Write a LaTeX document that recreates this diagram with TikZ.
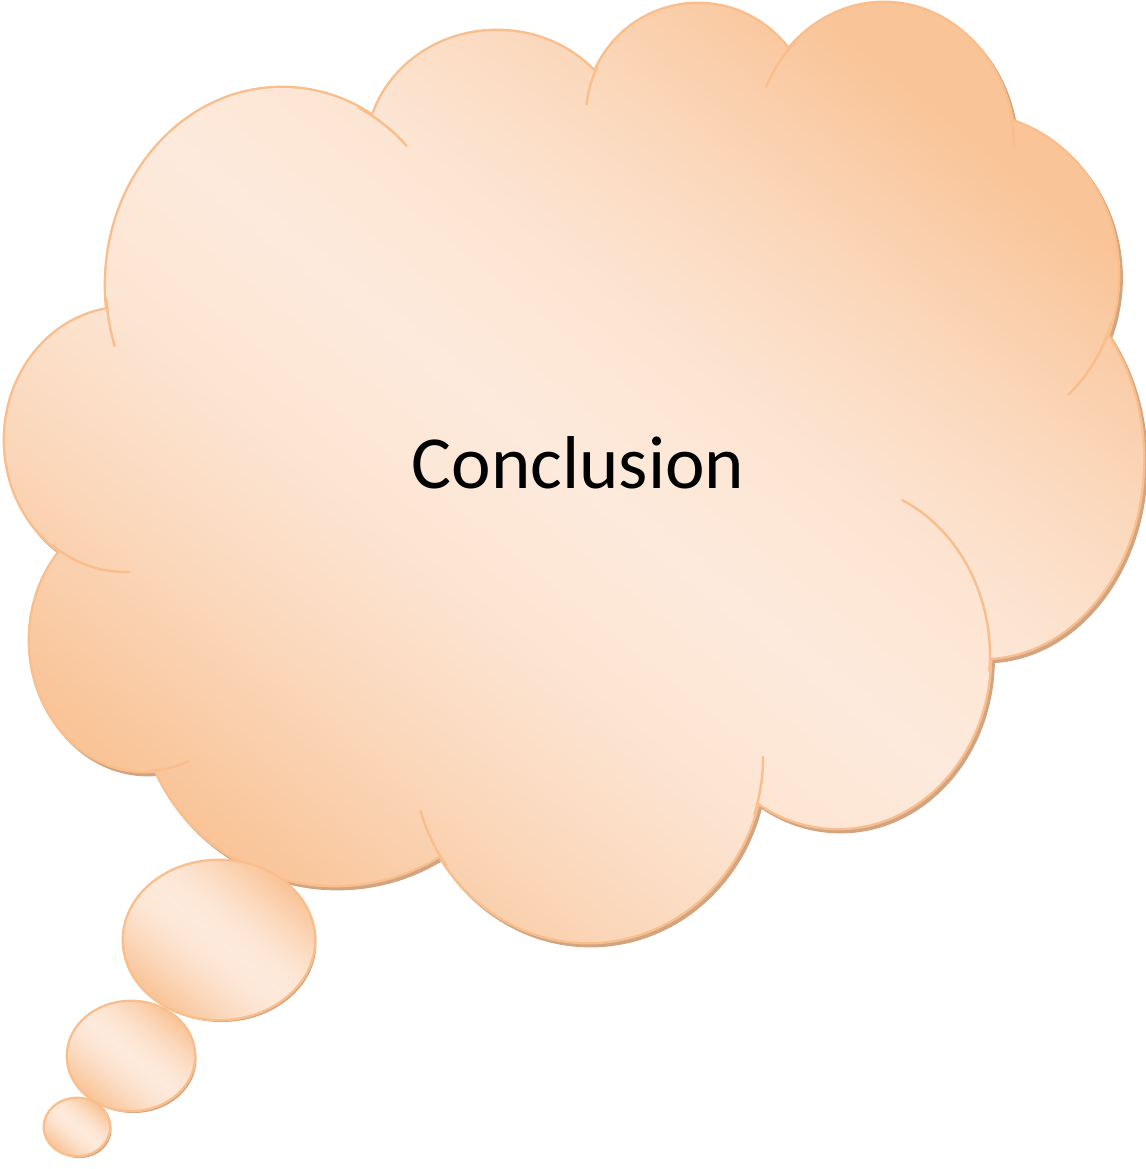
\documentclass[tikz,border=0pt]{standalone}
\usepackage{fontspec}
\setmainfont{Carlito}
\definecolor{outl}{HTML}{F9BE8C}
\definecolor{dk}{HTML}{F9C498}
\definecolor{lt}{HTML}{FDEADC}
\colorlet{mida}{lt!50!dk}
\colorlet{midb}{lt!85!dk}
\definecolor{shad}{HTML}{D3A480}
\pgfdeclareverticalshading{cloudsh}{100bp}{color(0bp)=(dk); color(25bp)=(dk); color(34bp)=(mida); color(42bp)=(midb); color(50bp)=(lt); color(58bp)=(midb); color(66bp)=(mida); color(75bp)=(dk); color(100bp)=(dk)}
\newcommand\cloudshape{%
 (282,285) ellipse [x radius=176, y radius=197]
 (497,152) ellipse [x radius=130, y radius=121]
 (698,116) ellipse [x radius=112, y radius=112]
 (884,148) ellipse [x radius=130, y radius=145]
 (968,275) ellipse [x radius=150, y radius=161]
 (983,460) ellipse [x radius=160, y radius=198]
 (838,656) ellipse [x radius=152, y radius=172]
 (588,757) ellipse [x radius=175, y radius=185]
 (335,695) ellipse [x radius=195, y radius=190]
 (145,640) ellipse [x radius=115, y radius=131]
 (125,440) ellipse [x radius=120, y radius=132]
 (575,450) ellipse [x radius=380, y radius=300]}
\newcommand\innerarc[6]{\draw[inarc] (#1,#2) ++(#5:#3 and #4) arc[start angle=#5, end angle=#6, x radius=#3, y radius=#4];}
\newcommand\bubble[5]{%
 \fill[shad] ([shift={(2.5,3)}]#1,#2) ellipse [x radius=#3, y radius=#4];
 \draw[outl, line width=3.6pt] (#1,#2) ellipse [x radius=#3, y radius=#4];
 \shade[shading=cloudsh, shading angle=#5] (#1,#2) ellipse [x radius=#3, y radius=#4];}
\tikzset{inarc/.style={draw=outl, line width=1.8pt, line cap=round}}
\begin{document}
\begin{tikzpicture}[x=0.0265cm, y=-0.0265cm]
\useasboundingbox (0,0) rectangle (1145,1169);
% shadow
\begin{scope}[shift={(2.5,3)}]
\filldraw[shad, line width=3.6pt] \cloudshape;
\end{scope}
% outline
\draw[outl, line width=3.6pt] \cloudshape;
% fill
\shade[shading=cloudsh, shading angle=-39] \cloudshape;
% inner arcs
\innerarc{282}{285}{176}{197}{162}{176}
\innerarc{282}{285}{176}{197}{-45}{-64}
\innerarc{698}{116}{112}{112}{186}{206}
\innerarc{884}{148}{130}{145}{205}{227}
\innerarc{884}{148}{130}{145}{-1}{-15}
\innerarc{968}{275}{150}{161}{48}{17}
\innerarc{838}{656}{152}{172}{-65}{5}
\innerarc{588}{757}{175}{185}{0}{18}
\innerarc{588}{757}{175}{185}{163}{144}
\innerarc{145}{640}{115}{131}{68}{88}
\innerarc{125}{440}{120}{132}{88}{127}
% bubbles
\bubble{219}{940}{95}{79}{-40}
\bubble{131}{1056}{63}{54}{-40}
\bubble{77}{1127}{32}{28}{-40}
\node (label) at (578,488) [anchor=base, font=\fontsize{56.5}{60}\selectfont, inner sep=0pt] {Conclusion};
\end{tikzpicture}
\end{document}
